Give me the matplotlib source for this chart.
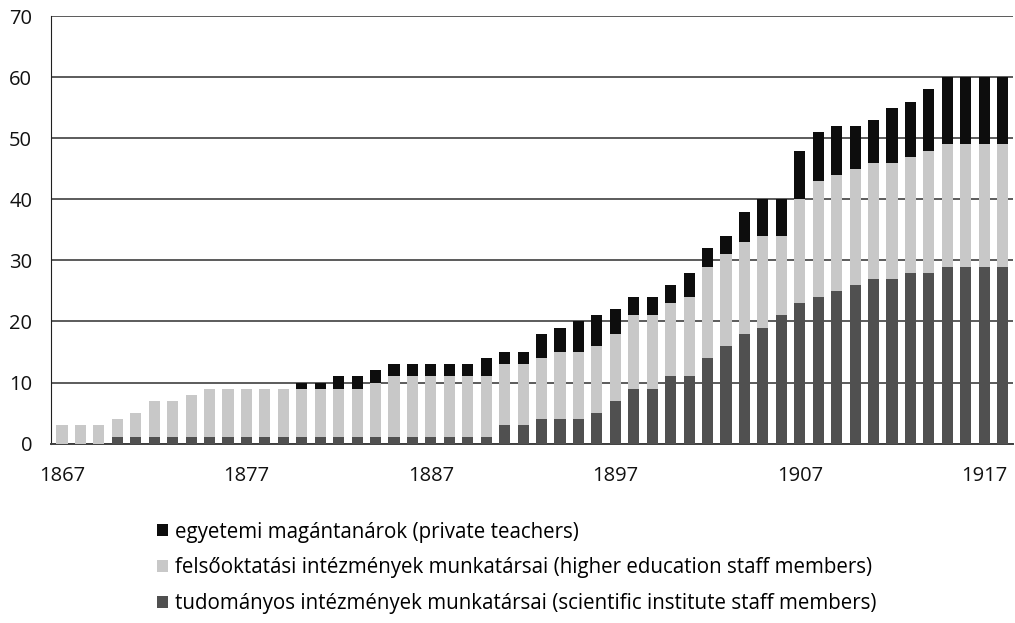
import matplotlib.pyplot as plt

# years 1867-1918
years = list(range(1867, 1919))

# tudományos intézmények munkatársai (scientific institute staff members)
scientific = [0, 0, 0, 1, 1, 1, 1, 1, 1, 1, 1, 1, 1, 1, 1, 1, 1, 1, 1, 1,
              1, 1, 1, 1, 3, 3, 4, 4, 4, 5, 7, 9, 9, 11, 11, 14, 16, 18, 19, 21,
              23, 24, 25, 26, 27, 27, 28, 28, 29, 29, 29, 29]
# felsőoktatási intézmények munkatársai (higher education staff members)
higher_ed = [3, 3, 3, 3, 4, 6, 6, 7, 8, 8, 8, 8, 8, 8, 8, 8, 8, 9, 10, 10,
             10, 10, 10, 10, 10, 10, 10, 11, 11, 11, 11, 12, 12, 12, 13, 15, 15, 15, 15, 13,
             17, 19, 19, 19, 19, 19, 19, 20, 20, 20, 20, 20]
# egyetemi magántanárok (private teachers)
private = [0, 0, 0, 0, 0, 0, 0, 0, 0, 0, 0, 0, 0, 1, 1, 2, 2, 2, 2, 2,
           2, 2, 2, 3, 2, 2, 4, 4, 5, 5, 4, 3, 3, 3, 4, 3, 3, 5, 6, 6,
           8, 8, 8, 7, 7, 9, 9, 10, 11, 11, 11, 11]

labels = [
    "egyetemi magántanárok (private teachers)",
    "felsőoktatási intézmények munkatársai (higher education staff members)",
    "tudományos intézmények munkatársai (scientific institute staff members)",
]
colors = ["#0d0d0d", "#c8c8c8", "#505050"]

plt.rcParams['font.family'] = ['Open Sans', 'DejaVu Sans']

fig = plt.figure(figsize=(10.15, 6.23), dpi=100)
ax = fig.add_axes([0.0502, 0.288, 0.948, 0.686])

w = 0.6
b_sci = ax.bar(years, scientific, width=w, color=colors[2], zorder=3)
b_he = ax.bar(years, higher_ed, width=w, bottom=scientific, color=colors[1], zorder=3)
bottom2 = [a + b for a, b in zip(scientific, higher_ed)]
b_pr = ax.bar(years, private, width=w, bottom=bottom2, color=colors[0], zorder=3)

ax.set_ylim(0, 70)
ax.set_yticks(range(0, 71, 10))
ax.set_xlim(1866.4, 1918.57)
ax.set_xticks(range(1867, 1918, 10))
ax.yaxis.grid(True, color="#404040", linewidth=1.2, zorder=0)
ax.set_axisbelow(True)

for s in ["top", "right"]:
    ax.spines[s].set_visible(False)
ax.spines["left"].set_color("#202020")
ax.spines["bottom"].set_color("#404040")
ax.spines["bottom"].set_linewidth(1.4)

ax.tick_params(axis="both", length=0, labelsize=14.5, colors="#111111")
ax.tick_params(axis="x", pad=16)
ax.tick_params(axis="y", pad=13.5)

fig.legend([b_pr, b_he, b_sci], labels, loc="upper left",
           bbox_to_anchor=(0.147, 0.176), frameon=False, fontsize=14.8,
           handlelength=0.5, handleheight=0.5, handletextpad=0.35,
           labelspacing=0.72, borderaxespad=0)

fig.savefig("out.png", dpi=100)
